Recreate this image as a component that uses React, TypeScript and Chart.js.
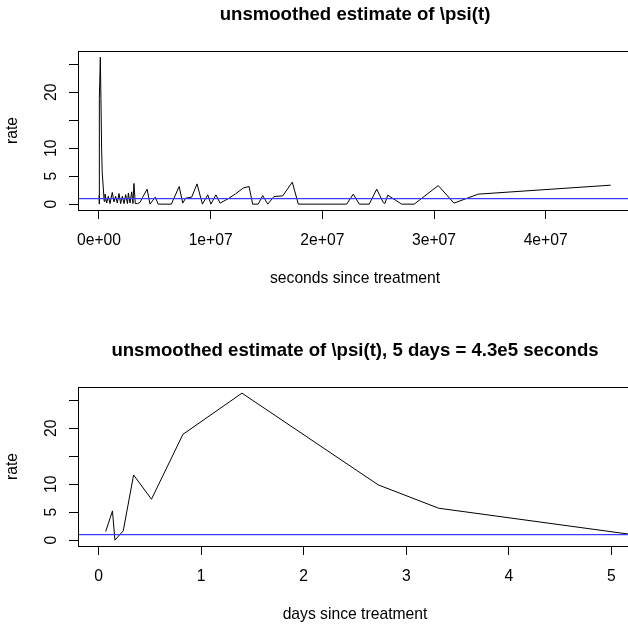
import React, { useEffect, useRef } from 'react';
import { Chart, registerables } from 'chart.js';

Chart.register(...registerables);

// ---- data (time since treatment in seconds, unsmoothed rate) ----
const timeSeconds = [
  6048, 11750, 13824, 20822, 29549, 44582, 71107, 120787, 235613, 286502, 466560,
  537000, 687000, 836000, 985000, 1190000, 1340000, 1490000, 1640000, 1790000,
  1940000, 2090000, 2240000, 2390000, 2550000, 2630000, 2780000, 2930000, 3040000,
  3130000, 3250000, 3450000, 3670000, 3900000, 4310000, 4570000, 5040000, 5300000,
  6480000, 7180000, 7500000, 7760000, 8300000, 8780000, 9260000, 9740000, 10020000,
  10470000, 10850000, 11590000, 12230000, 12930000, 13440000, 13760000, 14260000,
  14660000, 15110000, 15670000, 16450000, 17310000, 17850000, 22180000, 22770000,
  23310000, 24200000, 24870000, 25450000, 25600000, 25860000, 27110000, 28230000,
  30380000, 31790000, 33960000, 45820000,
];
const rateValues = [
  1.54, 5.23, 0.0, 1.66, 11.66, 7.32, 18.93, 26.3, 9.88, 5.71, 0.5,
  1.8, 0.2, 1.4, 0.1, 2.1, 0.4, 1.4, 0.2, 1.9,
  0.1, 1.4, 0.1, 1.7, 0.1, 2.0, 0.2, 2.2, 0.1,
  3.7, 0.1, 0.1, 0.3, 1.2, 2.67, 0.0, 1.25, 0.0,
  0.0, 3.15, 0.18, 1.07, 1.25, 3.62, 0.0, 1.66, 0.0,
  1.66, 0.18, 1.0, 1.84, 2.9, 3.15, 0.0, 0.0,
  1.54, 0.0, 1.36, 1.48, 3.93, 0.0, 0.0, 1.79,
  0.0, 0.0, 2.68, 0.3, 0.1, 1.6, 0.0, 0.0,
  3.32, 0.18, 1.79, 3.39,
];
const referenceRate = 1;
const secondsPerDay = 86400;

// ---- axes ----
const yTickValues = [0, 5, 10, 15, 20, 25];
const yTickLabels = ['0', '5', '10', '', '20', ''];
const yMin = -1.05;
const yMax = 27.4;
const topXTicks = [0, 1e7, 2e7, 3e7, 4e7];
const topXMin = -1.88e6;
const topXMax = 4.773e7;
const bottomXTicks = [0, 1, 2, 3, 4, 5];
const bottomXMin = -0.2;
const bottomXMax = 5.2;

const topTitle = 'unsmoothed estimate of \\psi(t)';
const bottomTitle = 'unsmoothed estimate of \\psi(t), 5 days = 4.3e5 seconds';
const topXLabel = 'seconds since treatment';
const bottomXLabel = 'days since treatment';
const yLabel = 'rate';

const FONT = "'Liberation Sans', Arial, Helvetica, sans-serif";
const AXIS_PX = 15.7;
const TITLE_PX = 18.6;
const CANVAS_W = 640;
const AREA_LEFT = 78;
const AREA_RIGHT = 632;
const AREA_TOP = 51;
const AREA_BOTTOM = 210;
const X_AXIS_H = 40;

function sci(v: number): string {
  if (v === 0) return '0e+00';
  const e = Math.floor(Math.log10(Math.abs(v)));
  const m = Math.round(v / Math.pow(10, e));
  return `${m}e${e >= 0 ? '+' : '-'}${String(Math.abs(e)).padStart(2, '0')}`;
}

type PanelProps = {
  height: number;
  title: string;
  xLabel: string;
  xs: number[];
  xTicks: number[];
  xMin: number;
  xMax: number;
  fmt: (v: number) => string;
};

function Panel({ height, title, xLabel, xs, xTicks, xMin, xMax, fmt }: PanelProps) {
  const ref = useRef<HTMLCanvasElement | null>(null);
  useEffect(() => {
    if (!ref.current) return;
    const rStyle = {
      id: 'rStyle',
      afterDraw(chart: any) {
        const ctx = chart.ctx as CanvasRenderingContext2D;
        const { left, right, top, bottom } = chart.chartArea;
        const ys = chart.scales.y;
        ctx.save();
        ctx.strokeStyle = '#000';
        ctx.lineWidth = 1;
        ctx.strokeRect(Math.round(left) + 0.5, Math.round(top) + 0.5, Math.round(right - left), Math.round(bottom - top));
        ctx.fillStyle = '#000';
        ctx.font = `${AXIS_PX}px ${FONT}`;
        ctx.textAlign = 'center';
        ctx.textBaseline = 'alphabetic';
        yTickValues.forEach((v, i) => {
          const lab = yTickLabels[i];
          if (!lab) return;
          const py = ys.getPixelForValue(v);
          ctx.save();
          ctx.translate(55.5, py);
          ctx.rotate(-Math.PI / 2);
          ctx.fillText(lab, 0, 0);
          ctx.restore();
        });
        ctx.save();
        ctx.translate(17, (top + bottom) / 2);
        ctx.rotate(-Math.PI / 2);
        ctx.fillText(yLabel, 0, 0);
        ctx.restore();
        ctx.fillText(xLabel, (left + right) / 2, 283);
        ctx.font = `bold ${TITLE_PX}px ${FONT}`;
        ctx.fillText(title, (left + right) / 2, 20);
        ctx.restore();
      },
    };
    const chart = new Chart(ref.current, {
      type: 'line',
      data: {
        datasets: [
          {
            data: [
              { x: xMin, y: referenceRate },
              { x: xMax, y: referenceRate },
            ],
            borderColor: '#3c3cff',
            borderWidth: 1.3,
            pointRadius: 0,
          },
          {
            data: xs.map((x, i) => ({ x, y: rateValues[i] })),
            borderColor: '#000',
            borderWidth: 1,
            pointRadius: 0,
            tension: 0,
          },
        ],
      },
      options: {
        animation: false,
        responsive: false,
        devicePixelRatio: 1,
        events: [],
        layout: {
          padding: {
            left: 0,
            top: AREA_TOP,
            right: CANVAS_W - AREA_RIGHT,
            bottom: height - AREA_BOTTOM - X_AXIS_H,
          },
        },
        plugins: { legend: { display: false }, title: { display: false }, tooltip: { enabled: false } },
        scales: {
          x: {
            type: 'linear',
            min: xMin,
            max: xMax,
            border: { display: false },
            grid: { drawOnChartArea: false, drawTicks: true, tickLength: 9, color: '#000', lineWidth: 1 },
            afterBuildTicks: (s: any) => {
              s.ticks = xTicks.map((v) => ({ value: v }));
            },
            afterFit: (s: any) => {
              s.height = X_AXIS_H;
            },
            ticks: {
              autoSkip: false,
              maxRotation: 0,
              minRotation: 0,
              padding: 12,
              color: '#000',
              font: { family: FONT, size: AXIS_PX },
              callback: (v: any) => fmt(Number(v)),
            },
          },
          y: {
            type: 'linear',
            min: yMin,
            max: yMax,
            border: { display: false },
            grid: { drawOnChartArea: false, drawTicks: true, tickLength: 9, color: '#000', lineWidth: 1 },
            afterBuildTicks: (s: any) => {
              s.ticks = yTickValues.map((v) => ({ value: v }));
            },
            afterFit: (s: any) => {
              s.width = AREA_LEFT;
            },
            ticks: { display: false },
          },
        },
      },
      plugins: [rStyle],
    });
    return () => chart.destroy();
  }, []);
  return <canvas ref={ref} width={CANVAS_W} height={height} style={{ display: 'block', width: CANVAS_W, height }} />;
}

export default function App() {
  const days = timeSeconds.map((t) => t / secondsPerDay);
  return (
    <div style={{ position: 'absolute', left: 0, top: 0, width: 628, height: 627, overflow: 'hidden', background: '#fff' }}>
      <Panel height={336} title={topTitle} xLabel={topXLabel} xs={timeSeconds} xTicks={topXTicks} xMin={topXMin} xMax={topXMax} fmt={sci} />
      <Panel height={291} title={bottomTitle} xLabel={bottomXLabel} xs={days} xTicks={bottomXTicks} xMin={bottomXMin} xMax={bottomXMax} fmt={(v) => String(v)} />
    </div>
  );
}
